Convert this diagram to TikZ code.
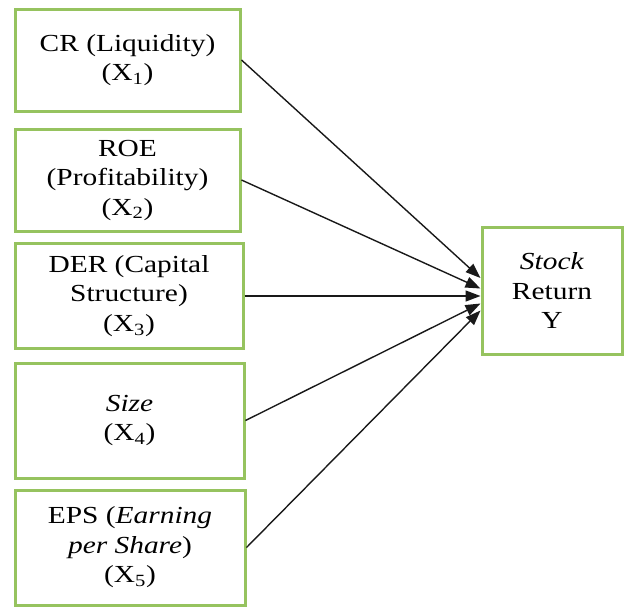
\documentclass[tikz,border=0pt]{standalone}
\usepackage{fontspec}
\setmainfont{Liberation Serif}[FakeStretch=1.2]
\usetikzlibrary{arrows.meta}
\definecolor{boxgreen}{RGB}{150,195,95}
\begin{document}
\begin{tikzpicture}[x=1pt,y=-1pt,
  box/.style={draw=boxgreen, line width=3pt, align=center, inner sep=0pt,
    font=\fontsize{24.5}{29.5}\selectfont},
  link/.style={line width=1.4pt, draw=black!90, -{Triangle[length=15pt,width=11pt]}}]
\useasboundingbox (0,0) rectangle (624,606);
\node[box, minimum width=225pt, minimum height=102pt] (b1) at (127.5,60)
  {CR (Liquidity)\\(X\textsubscript{1})};
\node[box, minimum width=225pt, minimum height=102pt] (b2) at (127.5,180)
  {ROE\\(Profitability)\\(X\textsubscript{2})};
\node[box, minimum width=228pt, minimum height=105pt] (b3) at (129,296)
  {DER (Capital\\Structure)\\(X\textsubscript{3})};
\node[box, minimum width=229pt, minimum height=115pt] (b4) at (129.5,420.5)
  {\textit{Size}\\(X\textsubscript{4})};
\node[box, minimum width=230pt, minimum height=115pt] (b5) at (130,547.5)
  {EPS (\textit{Earning}\\\textit{per Share})\\(X\textsubscript{5})};
\node[box, minimum width=140pt, minimum height=127pt] (y) at (552,290.5)
  {\textit{Stock}\\Return\\Y};
\draw[link] (b1.east) -- ([yshift=12.5pt]y.west);
\draw[link] (b2.east) -- ([yshift=2pt]y.west);
\draw[link] (b3.east) -- (b3.east -| y.west);
\draw[link] (b4.east) -- ([yshift=-13pt]y.west);
\draw[link] (b5.east) -- ([yshift=-20pt]y.west);
\end{tikzpicture}
\end{document}
